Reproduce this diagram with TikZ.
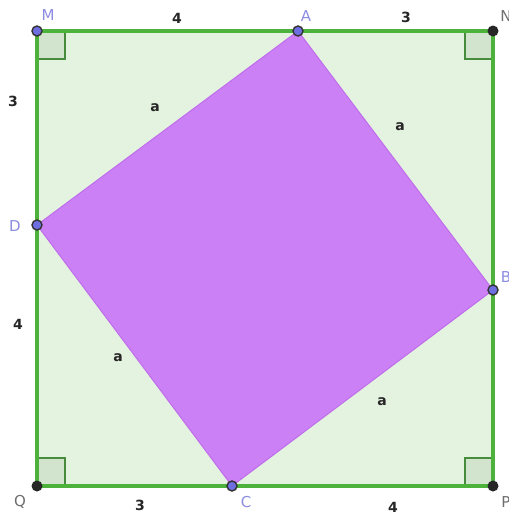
\documentclass[tikz,border=0pt]{standalone}
\usepackage{fontspec}
\setmainfont{DejaVu Sans}
\definecolor{sqfill}{RGB}{228,243,224}
\definecolor{sqline}{RGB}{76,178,60}
\definecolor{purp}{RGB}{204,128,245}
\definecolor{purpline}{RGB}{190,110,235}
\definecolor{ptblue}{RGB}{110,110,225}
\definecolor{lblblue}{RGB}{140,140,225}
\definecolor{lblgrey}{RGB}{110,110,110}
\definecolor{rafill}{RGB}{210,228,205}
\definecolor{raline}{RGB}{70,140,60}
\begin{document}
\begin{tikzpicture}[x=0.5pt,y=-0.5pt,
  bluept/.style={circle,fill=ptblue,draw=black!80,line width=0.7pt,inner sep=0pt,minimum size=5pt},
  blackpt/.style={circle,fill=black!85,inner sep=0pt,minimum size=5.5pt},
  bluelbl/.style={text=lblblue,font=\fontsize{7.5}{9}\selectfont,inner sep=1pt},
  greylbl/.style={text=lblgrey,font=\fontsize{7.5}{9}\selectfont,inner sep=1pt},
  numlbl/.style={text=black!85,font=\bfseries\fontsize{7}{8}\selectfont,inner sep=1pt},
  ramark/.style={fill=rafill,draw=raline,line width=0.6pt}]
\useasboundingbox (0,0) rectangle (509,515);
\fill[white] (0,0) rectangle (509,515);
% outer square
\coordinate (M) at (37,31);
\coordinate (N) at (493,31);
\coordinate (P) at (493,486);
\coordinate (Q) at (37,486);
\coordinate (A) at (298,31);
\coordinate (B) at (493,290);
\coordinate (C) at (232,486);
\coordinate (D) at (37,225);
\fill[sqfill] (M) -- (N) -- (P) -- (Q) -- cycle;
% right angle markers
\draw[ramark] (M) rectangle ++(28,28);
\draw[ramark] (N) rectangle ++(-28,28);
\draw[ramark] (P) rectangle ++(-28,-28);
\draw[ramark] (Q) rectangle ++(28,-28);
% inner square
\fill[purp] (A) -- (B) -- (C) -- (D) -- cycle;
\draw[purpline,line width=0.5pt] (A) -- (B) -- (C) -- (D) -- cycle;
\draw[sqline,line width=1.6pt] (M) -- (N) -- (P) -- (Q) -- cycle;
% points
\node[bluept] (pM) at (M) {};
\node[blackpt] (pN) at (N) {};
\node[blackpt] (pP) at (P) {};
\node[blackpt] (pQ) at (Q) {};
\node[bluept] (pA) at (A) {};
\node[bluept] (pB) at (B) {};
\node[bluept] (pC) at (C) {};
\node[bluept] (pD) at (D) {};
% point labels
\node[bluelbl] (lM) at (48,15) {M};
\node[bluelbl] (lA) at (306,16) {A};
\node[greylbl] (lN) at (506,16) {N};
\node[bluelbl] (lB) at (506,277) {B};
\node[bluelbl] (lD) at (15,226) {D};
\node[greylbl] (lQ) at (20,502) {Q};
\node[bluelbl] (lC) at (246,502) {C};
\node[greylbl] (lP) at (506,502) {P};
% lengths
\node[numlbl] (n1) at (177,18) {4};
\node[numlbl] (n2) at (406,17) {3};
\node[numlbl] (n3) at (13,101) {3};
\node[numlbl] (n4) at (18,324) {4};
\node[numlbl] (n5) at (140,505) {3};
\node[numlbl] (n6) at (393,507) {4};
\node[numlbl] (a1) at (155,108) {a};
\node[numlbl] (a2) at (400,127) {a};
\node[numlbl] (a3) at (118,358) {a};
\node[numlbl] (a4) at (382,402) {a};
\end{tikzpicture}
\end{document}
